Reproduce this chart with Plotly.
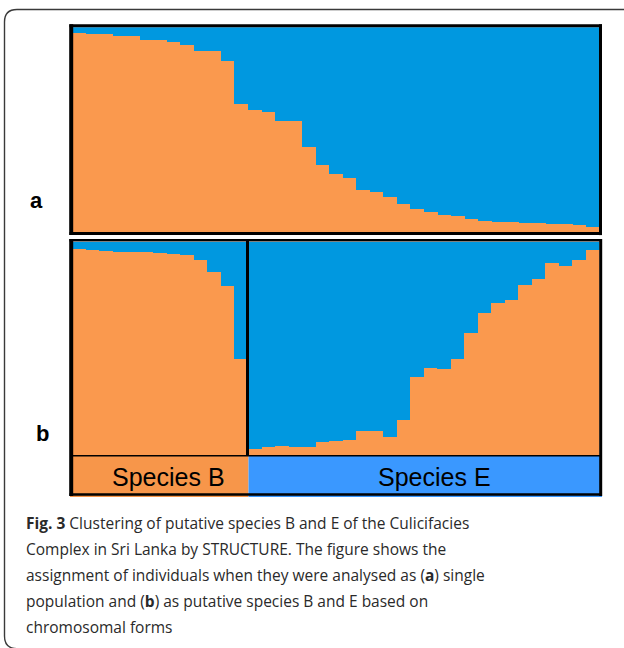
import plotly.graph_objects as go

# ---------------- data ----------------
# Panel a: 39 individuals analysed as a single population (orange = cluster 1 share)
a_orange = [0.971, 0.964, 0.964, 0.954, 0.954, 0.935, 0.935, 0.925, 0.914, 0.881,
            0.881, 0.836, 0.624, 0.593, 0.584, 0.540, 0.540, 0.413, 0.327, 0.283,
            0.263, 0.207, 0.195, 0.171, 0.138, 0.112, 0.098, 0.085, 0.076, 0.063,
            0.055, 0.049, 0.047, 0.046, 0.044, 0.041, 0.037, 0.033, 0.024]
# Panel b: putative species B (13 individuals) and E (26 individuals)
b_orange = [0.969, 0.961, 0.958, 0.955, 0.955, 0.951, 0.948, 0.945, 0.939, 0.917,
            0.862, 0.792, 0.451]
e_orange = [0.031, 0.042, 0.045, 0.042, 0.039, 0.066, 0.071, 0.074, 0.118, 0.118,
            0.086, 0.169, 0.368, 0.412, 0.404, 0.455, 0.575, 0.666, 0.716, 0.729,
            0.799, 0.826, 0.901, 0.886, 0.914, 0.961]
group_labels = ["Species B", "Species E"]
panel_labels = ["a", "b"]
caption_lines = [
    "<b>Fig. 3</b> Clustering of putative species B and E of the Culicifacies",
    "Complex in Sri Lanka by STRUCTURE. The figure shows the",
    "assignment of individuals when they were analysed as (<b>a</b>) single",
    "population and (<b>b</b>) as putative species B and E based on",
    "chromosomal forms",
]

ORANGE = "#FA994E"
BLUE = "#0098E0"
BAND_B = "#F7964A"
BAND_E = "#3A98FF"

W, H = 624, 648
def X(px):
    return px / W
def Y(py):
    return 1 - py / H

fig = go.Figure()

def add_panel(vals, xa, ya):
    idx = list(range(len(vals)))
    fig.add_trace(go.Bar(x=idx, y=vals, marker_color=ORANGE, marker_line_width=0,
                         width=1.0, xaxis=xa, yaxis=ya, showlegend=False, hoverinfo="skip"))
    fig.add_trace(go.Bar(x=idx, y=[1 - v for v in vals], marker_color=BLUE,
                         marker_line_width=0, width=1.0, xaxis=xa, yaxis=ya,
                         showlegend=False, hoverinfo="skip"))

add_panel(a_orange, "x", "y")
add_panel(b_orange, "x2", "y2")
add_panel(e_orange, "x3", "y3")

ax_common = dict(showgrid=False, zeroline=False, showticklabels=False, ticks="",
                 showline=False, fixedrange=True)

top_a, bot_a = 27.3, 232.3
top_b, bot_b = 241.7, 455.5
layout_axes = dict(
    xaxis=dict(domain=[X(71.5), X(599.5)], range=[-0.5, len(a_orange) - 0.5], anchor="y", **ax_common),
    yaxis=dict(domain=[Y(bot_a), Y(top_a)], range=[0, 1], anchor="x", **ax_common),
    xaxis2=dict(domain=[X(71.5), X(247.0)], range=[-0.5, len(b_orange) - 0.5], anchor="y2", **ax_common),
    yaxis2=dict(domain=[Y(bot_b), Y(top_b)], range=[0, 1], anchor="x2", **ax_common),
    xaxis3=dict(domain=[X(248.0), X(599.5)], range=[-0.5, len(e_orange) - 0.5], anchor="y3", **ax_common),
    yaxis3=dict(domain=[Y(bot_b), Y(top_b)], range=[0, 1], anchor="x3", **ax_common),
)

shapes = []
def line(x0, y0, x1, y1, w, color="black"):
    shapes.append(dict(type="line", xref="paper", yref="paper", x0=X(x0), y0=Y(y0),
                       x1=X(x1), y1=Y(y1), line=dict(color=color, width=w), layer="above"))
def rect(x0, y0, x1, y1, fill):
    shapes.append(dict(type="rect", xref="paper", yref="paper", x0=X(x0), y0=Y(y0),
                       x1=X(x1), y1=Y(y1), fillcolor=fill, line=dict(width=0), layer="above"))

# outer rounded frame
path = (f"M {X(640)},{Y(9.5)} L {X(17)},{Y(9.5)} Q {X(4.5)},{Y(9.5)} {X(4.5)},{Y(22)} "
        f"L {X(4.5)},{Y(636)} Q {X(4.5)},{Y(648.6)} {X(17)},{Y(648.6)} L {X(640)},{Y(648.6)}")
shapes.append(dict(type="path", xref="paper", yref="paper", path=path,
                   line=dict(color="#3a3a3a", width=1.4), layer="below"))

# species bands
rect(70, 456, 248.5, 497, BAND_B)
rect(248.5, 456, 602, 497, BAND_E)

# panel a border
line(69.5, 25.8, 602, 25.8, 3)
line(69.5, 233.6, 602, 233.6, 3)
line(71.2, 24.3, 71.2, 235.1, 4)
line(600.5, 24.3, 600.5, 235.1, 3)
# panel b border
line(69.5, 240.3, 602, 240.3, 2.5)
line(71.2, 239, 71.2, 496, 4)
line(600.7, 239, 600.7, 496, 3)
line(69.5, 494.5, 602, 494.5, 2.5)
line(71, 455.8, 601, 455.8, 1.5)
line(247.5, 240, 247.5, 456, 3)

annotations = []
label_pos = [(36, 201), (42, 433)]
for lab, (lx, ly) in zip(panel_labels, label_pos):
    annotations.append(dict(text=f"<b>{lab}</b>", x=X(lx), y=Y(ly), xref="paper", yref="paper",
                            showarrow=False, font=dict(family="Liberation Sans, Arial", size=22, color="black"),
                            xanchor="center", yanchor="middle"))

for lab, gx in zip(group_labels, [168, 434]):
    annotations.append(dict(text=lab, x=X(gx), y=Y(476.5), xref="paper", yref="paper",
                            showarrow=False, font=dict(family="Liberation Sans, Arial", size=25, color="black"),
                            xanchor="center", yanchor="middle"))

cap_y = [523, 549, 575, 601, 627]
for txt, yy in zip(caption_lines, cap_y):
    annotations.append(dict(text=txt, x=X(24), y=Y(yy), xref="paper", yref="paper",
                            showarrow=False, font=dict(family="Open Sans", size=15.5, color="#2a2a2a"),
                            xanchor="left", yanchor="middle"))

fig.update_layout(
    width=W, height=H, margin=dict(l=0, r=0, t=0, b=0),
    paper_bgcolor="white", plot_bgcolor="white",
    barmode="stack", bargap=0, bargroupgap=0,
    shapes=shapes, annotations=annotations, showlegend=False,
    **layout_axes,
)

fig.write_html("out.html", config={"displayModeBar": False},
               post_script="document.body.style.margin='0';document.body.style.overflow='hidden';")
